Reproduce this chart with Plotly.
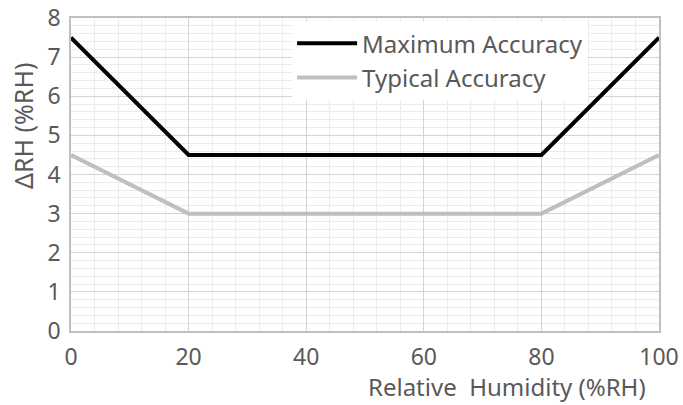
import plotly.graph_objects as go

humidity = [0, 20, 80, 100]
max_acc = [7.5, 4.5, 4.5, 7.5]
typ_acc = [4.5, 3.0, 3.0, 4.5]
x_ticks = [0, 20, 40, 60, 80, 100]
y_ticks = [0, 1, 2, 3, 4, 5, 6, 7, 8]

FONT = "Noto Sans"
TXT = "#595959"
FS = 23

fig = go.Figure()
fig.add_trace(go.Scatter(x=humidity, y=max_acc, mode="lines", name="Maximum Accuracy",
                         line=dict(color="black", width=4)))
fig.add_trace(go.Scatter(x=humidity, y=typ_acc, mode="lines", name="Typical Accuracy",
                         line=dict(color="#bfbfbf", width=4)))

fig.update_layout(
    width=683, height=405,
    margin=dict(l=71, r=24, t=18, b=74),
    paper_bgcolor="white", plot_bgcolor="white",
    font=dict(family=FONT, size=FS, color=TXT),
    showlegend=True,
    legend=dict(x=0.376, y=0.99, xanchor="left", yanchor="top",
                bgcolor="white", font=dict(size=FS + 1, color=TXT),
                tracegroupgap=0, itemwidth=60),
    xaxis=dict(range=[0, 100], tickvals=x_ticks, showgrid=True, gridcolor="#d4d4d4",
               gridwidth=1, showline=True, linecolor="#bfbfbf", linewidth=1.5, mirror=True,
               zeroline=False, ticks="", tickfont=dict(size=FS, color=TXT), automargin=False,
               ticklabelstandoff=5,
               minor=dict(dtick=4, showgrid=True, gridcolor="#ececec", gridwidth=1)),
    yaxis=dict(range=[0, 8], tickvals=y_ticks, showgrid=True, gridcolor="#d4d4d4",
               gridwidth=1, showline=True, linecolor="#bfbfbf", linewidth=1.5, mirror=True,
               zeroline=False, ticks="", tickfont=dict(size=FS, color=TXT), automargin=False,
               ticklabelstandoff=4,
               minor=dict(dtick=0.2, showgrid=True, gridcolor="#ececec", gridwidth=1)),
)

fig.add_annotation(text="ΔRH (%RH)", xref="paper", yref="paper",
                   x=(23 - 71) / 588, y=(331 - 126) / 313, xanchor="center", yanchor="middle",
                   textangle=-90, showarrow=False, font=dict(size=25, color=TXT, family=FONT))

fig.add_annotation(text="Relative\u00a0\u00a0Humidity (%RH)", xref="paper", yref="paper",
                   x=(648 - 71) / 588, y=0, xanchor="right", yanchor="top", yshift=-37,
                   showarrow=False, font=dict(size=24, color=TXT, family=FONT))

fig.write_html("out.html", config={"displayModeBar": False},
               post_script="document.body.style.margin='0';")
